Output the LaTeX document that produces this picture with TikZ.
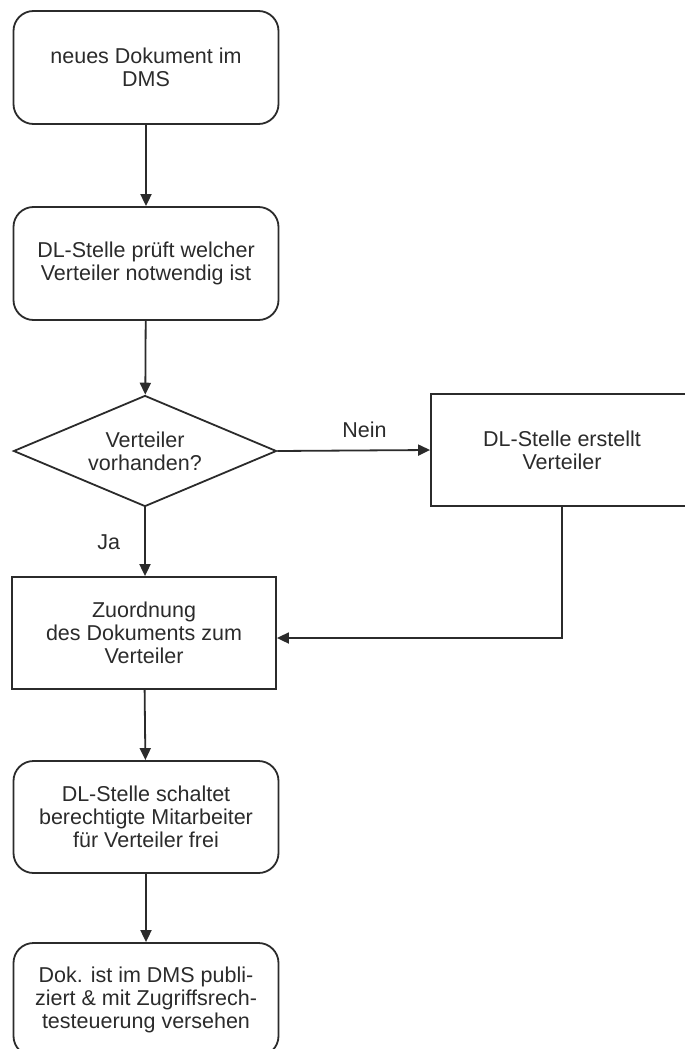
\documentclass[tikz,border=0pt]{standalone}
\usepackage{fontspec}
\setmainfont{Liberation Sans}
\usepackage{tikz}
\usetikzlibrary{shapes.geometric,arrows.meta}
\definecolor{ink}{HTML}{2B2B2B}
\tikzset{>={Triangle[length=12pt,width=11pt]}}
\tikzset{%
    flowtext/.style={%
        text=ink, align=center, inner sep=0pt,
        font=\fontsize{21.5}{23}\selectfont
    },
    roundbox/.style={%
        flowtext, draw=ink, line width=1.8pt, rounded corners=20pt,
        minimum width=265pt, minimum height=113pt
    },
    plainbox/.style={%
        flowtext, draw=ink, line width=1.8pt,
        minimum width=264pt, minimum height=112pt
    },
    decbox/.style={%
        flowtext, draw=ink, line width=1.8pt, diamond, aspect=2.37,
        minimum width=263pt, minimum height=111pt
    },
    flow/.style={->, draw=ink, line width=1.8pt}
}

\begin{document}
\begin{tikzpicture}[x=1pt,y=-1pt]
  \clip (0,0) rectangle (685,1049);
  \node[roundbox] (neu) at (146,67.5) {neues Dokument im\\DMS};
  \node[roundbox] (pruef) at (146,263.5) {DL-Stelle prüft welcher\\Verteiler notwendig ist};
  \node[decbox] (vorh) at (145,451) {Verteiler\\vorhanden?};
  \node[plainbox,minimum width=262pt] (erst) at (562,450) {DL-Stelle erstellt\\Verteiler};
  \node[plainbox] (zuord) at (144,633) {Zuordnung\\des Dokuments zum\\Verteiler};
  \node[roundbox,minimum height=112pt] (frei) at (146,817) {DL-Stelle schaltet\\berechtigte Mitarbeiter\\für Verteiler frei};
  \node[roundbox] (publ) at (146,999.5) {Dok. ist im DMS publi-\\ziert \& mit Zugriffsrech-\\testeuerung versehen};
  \draw[flow] (neu) -- (pruef);
  \draw[flow] (pruef) -- (vorh);
  \draw[flow] (vorh.east) -- node[flowtext,pos=0.57,above=12pt] {Nein} (erst.west);
  \draw[flow] (vorh.south) -- node[flowtext,left=24pt] {Ja} (zuord.north -| vorh.south);
  \draw[flow] (erst.south) |- ([yshift=-5pt]zuord.east);
  \draw[flow] (zuord) -- (frei);
  \draw[flow] (frei) -- (publ);
\end{tikzpicture}
\end{document}
